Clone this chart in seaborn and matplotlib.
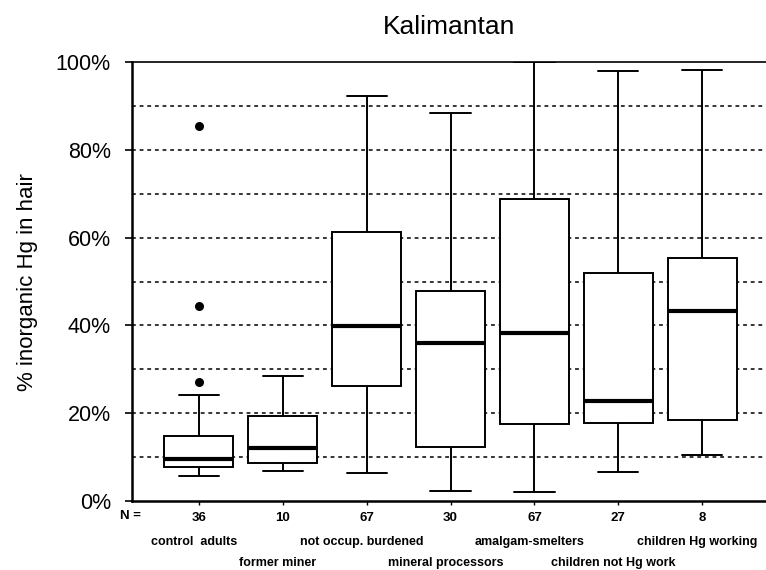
import pandas as pd
import numpy as np
import seaborn as sns
import matplotlib.pyplot as plt

# Gruppen und Werte (in %)
groups = ["control  adults", "former miner", "not occup. burdened", "mineral processors",
          "amalgam-smelters", "children not Hg work", "children Hg working"]
n_values = [36, 10, 67, 30, 67, 27, 8]
whisker_low = [5.6, 6.9, 6.5, 2.3, 2.0, 6.7, 10.5]
q1 = [7.7, 8.7, 26.3, 12.2, 17.5, 17.8, 18.5]
median = [9.6, 12.1, 39.8, 36.1, 38.3, 22.8, 43.3]
q3 = [14.9, 19.4, 61.2, 47.9, 68.9, 52.0, 55.4]
whisker_high = [24.2, 28.5, 92.3, 88.4, 100.0, 98.0, 98.3]
outlier_group = ["control  adults", "control  adults", "control  adults"]
outlier_values = [85.5, 44.4, 27.1]

# Fuenf-Punkte-Zusammenfassung als lange Tabelle
rows = []
for i, g in enumerate(groups):
    for v in [whisker_low[i], q1[i], median[i], q3[i], whisker_high[i]]:
        rows.append({"group": g, "value": v})
df = pd.DataFrame(rows)
df_out = pd.DataFrame({"group": outlier_group, "value": outlier_values})

sns.set_style("ticks")
plt.rcParams["font.family"] = ["Liberation Sans", "DejaVu Sans"]
plt.rcParams.update({"text.color": "black", "axes.labelcolor": "black",
                     "xtick.color": "black", "ytick.color": "black",
                     "axes.edgecolor": "black"})

fig = plt.figure(figsize=(7.66, 5.70), dpi=100)
ax = fig.add_axes([0.172, 0.121, 0.828, 0.770])

# Gitterlinien
for y in range(10, 100, 10):
    ax.axhline(y, color="black", lw=1.1, ls=(0, (2.5, 2.5)), zorder=0)

sns.boxplot(data=df, x="group", y="value", order=groups, whis=(0, 100), width=0.82,
            color="white", linecolor="black", linewidth=1.4, fliersize=0,
            medianprops={"linewidth": 3}, capwidths=0.48, ax=ax, zorder=2)
sns.stripplot(data=df_out, x="group", y="value", order=groups, jitter=False,
              color="black", size=6.5, ax=ax, zorder=3)

ax.set_ylim(0, 100)
ax.set_xlim(-0.8, 6.76)
ax.set_yticks(range(0, 101, 20))
ax.set_yticklabels([f"{v}%" for v in range(0, 101, 20)], fontsize=15.5)
ax.set_xticks(range(len(groups)))
ax.set_xticklabels([str(n) for n in n_values], fontsize=9.5, fontweight="bold")
ax.tick_params(axis="y", length=5, width=1.2, pad=10)
ax.tick_params(axis="x", length=3, width=1, pad=5)
ax.set_xlabel("")
ax.set_ylabel("% inorganic Hg in hair", fontsize=16, labelpad=13)
ax.set_title("Kalimantan", fontsize=19, pad=20)

for s in ["left", "bottom"]:
    ax.spines[s].set_linewidth(1.8)
ax.spines["top"].set_linewidth(1.2)
ax.spines["right"].set_visible(False)

# N = und Gruppennamen
ax.text(-0.81, -0.034, "N =", transform=ax.get_xaxis_transform(),
        ha="center", va="center", fontsize=9.5, fontweight="bold")
for i, g in enumerate(groups):
    yy = -0.093 if i % 2 == 0 else -0.141
    ax.text(i - 0.06, yy, g, transform=ax.get_xaxis_transform(),
            ha="center", va="center", fontsize=9, fontweight="bold")

fig.savefig("out.png", dpi=100)
plt.close()
